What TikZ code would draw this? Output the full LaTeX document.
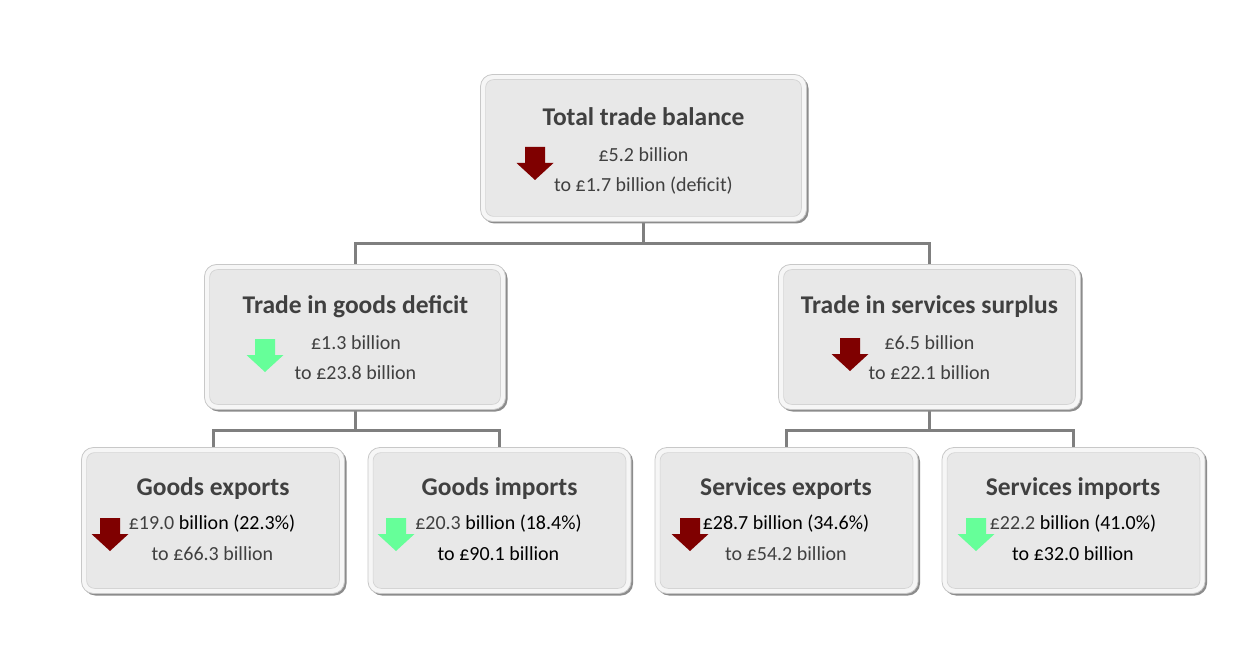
\documentclass[tikz,border=0pt]{standalone}
\usepackage{fontspec}
\setmainfont{Carlito}
\usetikzlibrary{backgrounds}
\definecolor{linegray}{HTML}{7F7F7F}
\definecolor{boxfill}{HTML}{E8E8E8}
\definecolor{framecol}{HTML}{F6F6F6}
\definecolor{edgecol}{HTML}{C8C8C8}
\definecolor{shadowcol}{HTML}{8C8C8C}
\definecolor{innerline}{HTML}{D4D4D4}
\definecolor{txtgray}{HTML}{404040}
\definecolor{arrred}{HTML}{7F0000}
\definecolor{arrgreen}{HTML}{66FF99}
\tikzset{
  boxouter/.style={rectangle, rounded corners=12pt, inner sep=0pt, fill=framecol, draw=edgecol, line width=0.8pt,
    preaction={fill=shadowcol, transform canvas={shift={(2pt,-2pt)}}}},
  boxinner/.style={rounded corners=8pt, fill=boxfill, draw=innerline, line width=0.7pt},
  conn/.style={draw=linegray, line width=3pt},
  ttl/.style={anchor=base, inner sep=0pt, text=txtgray, font=\bfseries\fontsize{25.5}{30}\selectfont},
  bodytxt/.style={anchor=base, inner sep=0pt, text=txtgray, font=\fontsize{20}{24}\selectfont},
  bodyblk/.style={anchor=base, inner sep=0pt, text=black, font=\fontsize{20}{24}\selectfont},
  darr/.pic={\fill[pic actions] (-10,0) -- (10,0) -- (10,16) -- (18.5,16) -- (0,33) -- (-18.5,16) -- (-10,16) -- cycle;}
}
\newcommand\bevbox[5]{%
  \node[boxouter, minimum width=#4pt, minimum height=#5pt] (#1) at (#2,#3) {};
  \draw[boxinner] ([shift={(5.5,5.5)}]#1.north west) rectangle ([shift={(-5.5,-5.5)}]#1.south east);
}
\begin{document}
\begin{tikzpicture}[x=1pt,y=-1pt]
\useasboundingbox (0,0) rectangle (1248,655);
% boxes
\bevbox{tb}{643.5}{148}{326}{147}
\bevbox{gd}{355}{337}{301}{145}
\bevbox{ss}{929.5}{337}{302}{145}
\bevbox{ge}{213}{520.5}{263}{146}
\bevbox{gi}{499.5}{520.5}{263}{146}
\bevbox{se}{786.5}{520.5}{263}{146}
\bevbox{si}{1073.5}{520.5}{263}{146}
% connectors
\begin{pgfonlayer}{background}
\fill[white] (0,0) rectangle (1248,655);
\coordinate (j0) at (643.5,244);
\coordinate (j1) at (355,430);
\coordinate (j2) at (929.5,430);
\draw[conn] (tb.south) -- (j0);
\draw[conn] (gd.north) |- (j0) -| (ss.north);
\draw[conn] (gd.south) -- (j1);
\draw[conn] (ge.north) |- (j1) -| (gi.north);
\draw[conn] (ss.south) -- (j2);
\draw[conn] (se.north) |- (j2) -| (si.north);
\end{pgfonlayer}
% arrows
\pic[fill=arrred] at (535,147) {darr};
\pic[fill=arrgreen] at (265,339) {darr};
\pic[fill=arrred] at (850,338) {darr};
\pic[fill=arrred] at (110,518) {darr};
\pic[fill=arrgreen] at (396,518) {darr};
\pic[fill=arrred] at (690,518) {darr};
\pic[fill=arrgreen] at (976,518) {darr};
% texts
\node[ttl] (tbt) at (643.5,126) {Total trade balance};
\node[bodytxt] (tb1) at (643.5,162) {£5.2 billion};
\node[bodytxt] (tb2) at (643.5,192) {to £1.7 billion (deficit)};
\node[ttl] (gdt) at (355.5,313) {Trade in goods deficit};
\node[bodytxt] (gd1) at (356,349) {£1.3 billion};
\node[bodytxt] (gd2) at (355.5,379) {to £23.8 billion};
\node[ttl] (sst) at (929.5,313) {Trade in services surplus};
\node[bodytxt] (ss1) at (929.5,349) {£6.5 billion};
\node[bodytxt] (ss2) at (929.5,379) {to £22.1 billion};
\node[ttl] (get) at (213,495) {Goods exports};
\node[bodyblk] (ge1) at (212,529.5) {{\color{txtgray}£19.0} billion (22.3\%)};
\node[bodytxt] (ge2) at (212.5,560) {to £66.3 billion};
\node[ttl] (git) at (499.5,495) {Goods imports};
\node[bodyblk] (gi1) at (498.5,529.5) {{\color{txtgray}£20.3} billion (18.4\%)};
\node[bodyblk] (gi2) at (498.5,560) {to £90.1 billion};
\node[ttl] (set) at (786,495) {Services exports};
\node[bodyblk] (se1) at (786,529.5) {£28.7 billion (34.6\%)};
\node[bodytxt] (se2) at (786,560) {to £54.2 billion};
\node[ttl] (sit) at (1073,495) {Services imports};
\node[bodyblk] (si1) at (1073,529.5) {{\color{txtgray}£22.2} billion (41.0\%)};
\node[bodyblk] (si2) at (1073,560) {to £32.0 billion};
\end{tikzpicture}
\end{document}
